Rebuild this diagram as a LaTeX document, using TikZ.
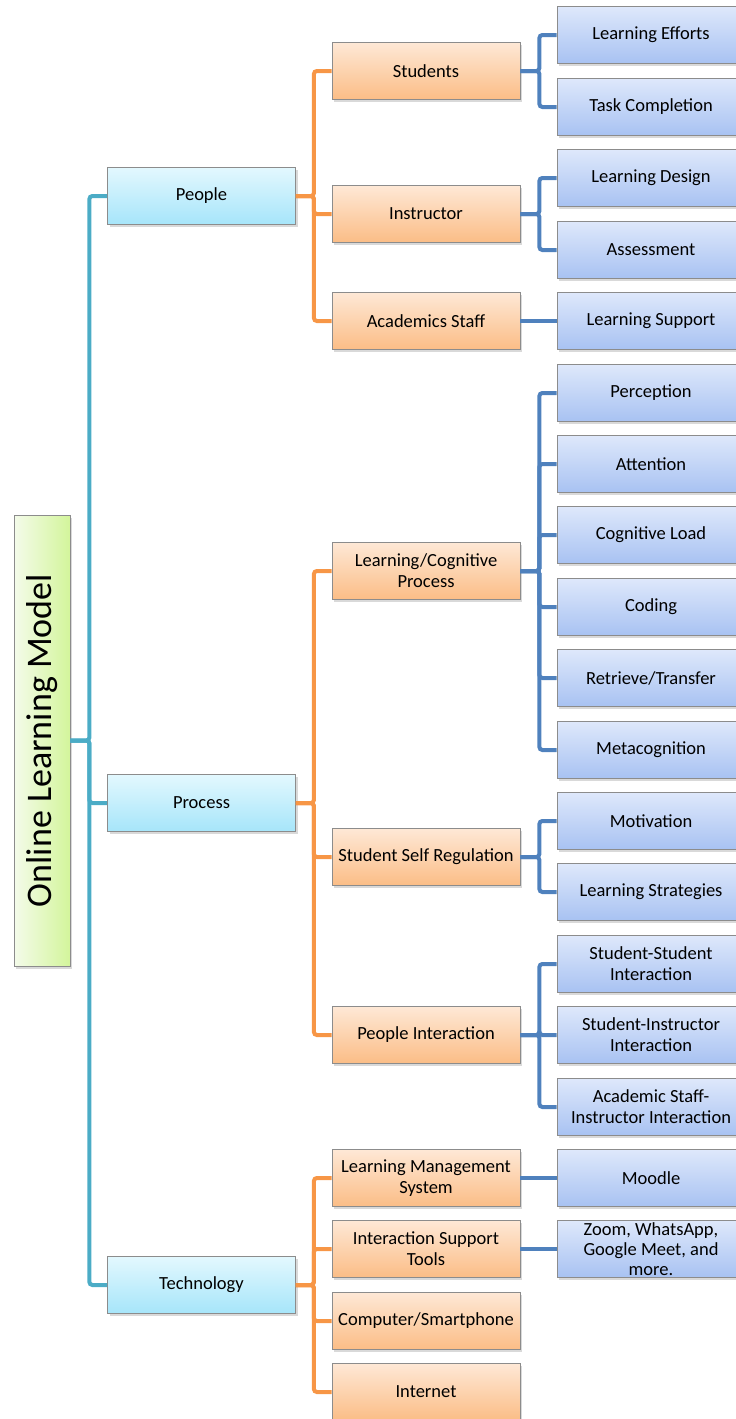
\documentclass[tikz,border=0pt]{standalone}
\usepackage{fontspec}
\setmainfont{Carlito}
\usetikzlibrary{shadows}
\definecolor{tealline}{HTML}{4BACC6}
\definecolor{orangeline}{HTML}{F79646}
\definecolor{blueline}{HTML}{4F81BD}
\definecolor{boxgray}{HTML}{8C8C8C}
\definecolor{roottop}{HTML}{F4FBEA}
\definecolor{rootbot}{HTML}{D3F59B}
\definecolor{areatop}{HTML}{E3F8FE}
\definecolor{areabot}{HTML}{A6E5FA}
\definecolor{parttop}{HTML}{FEE8D6}
\definecolor{partbot}{HTML}{FBBD86}
\definecolor{itemtop}{HTML}{DEE8FB}
\definecolor{itembot}{HTML}{A8C2F2}
\tikzset{
  box/.style={draw=boxgray, line width=.8pt, minimum width=188pt, minimum height=57pt,
    inner sep=2pt, align=center, font=\fontsize{18.5}{21}\selectfont,
    drop shadow={shadow xshift=2pt, shadow yshift=-2.5pt, opacity=.3}},
  rootbox/.style={box, minimum width=451pt, minimum height=56pt, rotate=90,
    left color=roottop, right color=rootbot, font=\fontsize{36}{40}\selectfont},
  areabox/.style={box, top color=areatop, bottom color=areabot},
  partbox/.style={box, top color=parttop, bottom color=partbot},
  itembox/.style={box, top color=itemtop, bottom color=itembot},
  link/.style={line width=4pt, rounded corners=3pt},
  rootlink/.style={link, draw=tealline},
  arealink/.style={link, draw=orangeline},
  partlink/.style={link, draw=blueline}
}
\begin{document}
\begin{tikzpicture}[x=1pt,y=-1pt]
  \useasboundingbox (0,0) rectangle (736,1419);

  \node[rootbox] (olm) at (42,740.5) {Online Learning Model};

  \node[areabox] (peo) at (201.5,196) {People};
  \node[areabox] (pro) at (201.5,803) {Process};
  \node[areabox] (tec) at (201.5,1285) {Technology};

  \node[partbox] (stu) at (426,71) {Students};
  \node[partbox] (ins) at (426,214) {Instructor};
  \node[partbox] (aca) at (426,321) {Academics Staff};
  \node[partbox] (lcp) at (426,571) {Learning/Cognitive\\Process};
  \node[partbox] (ssr) at (426,857) {Student Self Regulation};
  \node[partbox] (pin) at (426,1035) {People Interaction};
  \node[partbox] (lms) at (426,1178) {Learning Management\\System};
  \node[partbox] (ist) at (426,1249) {Interaction Support\\Tools};
  \node[partbox] (cmp) at (426,1321) {Computer/Smartphone};
  \node[partbox] (net) at (426,1392) {Internet};

  \node[itembox] (eff) at (651,35) {Learning Efforts};
  \node[itembox] (tsk) at (651,107) {Task Completion};
  \node[itembox] (dsg) at (651,178) {Learning Design};
  \node[itembox] (ass) at (651,250) {Assessment};
  \node[itembox] (sup) at (651,321) {Learning Support};
  \node[itembox] (per) at (651,393) {Perception};
  \node[itembox] (att) at (651,464) {Attention};
  \node[itembox] (cog) at (651,535) {Cognitive Load};
  \node[itembox] (cod) at (651,607) {Coding};
  \node[itembox] (ret) at (651,678) {Retrieve/Transfer};
  \node[itembox] (met) at (651,750) {Metacognition};
  \node[itembox] (mot) at (651,821) {Motivation};
  \node[itembox] (str) at (651,892) {Learning Strategies};
  \node[itembox] (sst) at (651,964) {Student-Student\\Interaction};
  \node[itembox] (sin) at (651,1035) {Student-Instructor\\Interaction};
  \node[itembox] (asi) at (651,1107) {Academic Staff-\\Instructor Interaction};
  \node[itembox] (moo) at (651,1178) {Moodle};
  \node[itembox, inner ysep=0pt, font=\fontsize{18.5}{20}\selectfont] (zoo) at (651,1249)
    {Zoom, WhatsApp,\\Google Meet, and\\more.};

  % root to areas
  \foreach \c in {peo,pro,tec}
    \draw[rootlink] (olm.south) -- ++(19,0) |- (\c.west);

  % areas to parts
  \foreach \c in {stu,ins,aca}
    \draw[arealink] (peo.east) -- ++(18,0) |- (\c.west);
  \foreach \c in {lcp,ssr,pin}
    \draw[arealink] (pro.east) -- ++(18,0) |- (\c.west);
  \foreach \c in {lms,ist,cmp,net}
    \draw[arealink] (tec.east) -- ++(18,0) |- (\c.west);

  % parts to items
  \foreach \p/\c in {stu/eff,stu/tsk,ins/dsg,ins/ass,
      lcp/per,lcp/att,lcp/cog,lcp/cod,lcp/ret,lcp/met,
      ssr/mot,ssr/str,pin/sst,pin/sin,pin/asi}
    \draw[partlink] (\p.east) -- ++(19,0) |- (\c.west);
  % single children, straight across
  \foreach \p/\c in {aca/sup,lms/moo,ist/zoo}
    \draw[partlink] (\p.east) -- (\c.west);
\end{tikzpicture}
\end{document}
